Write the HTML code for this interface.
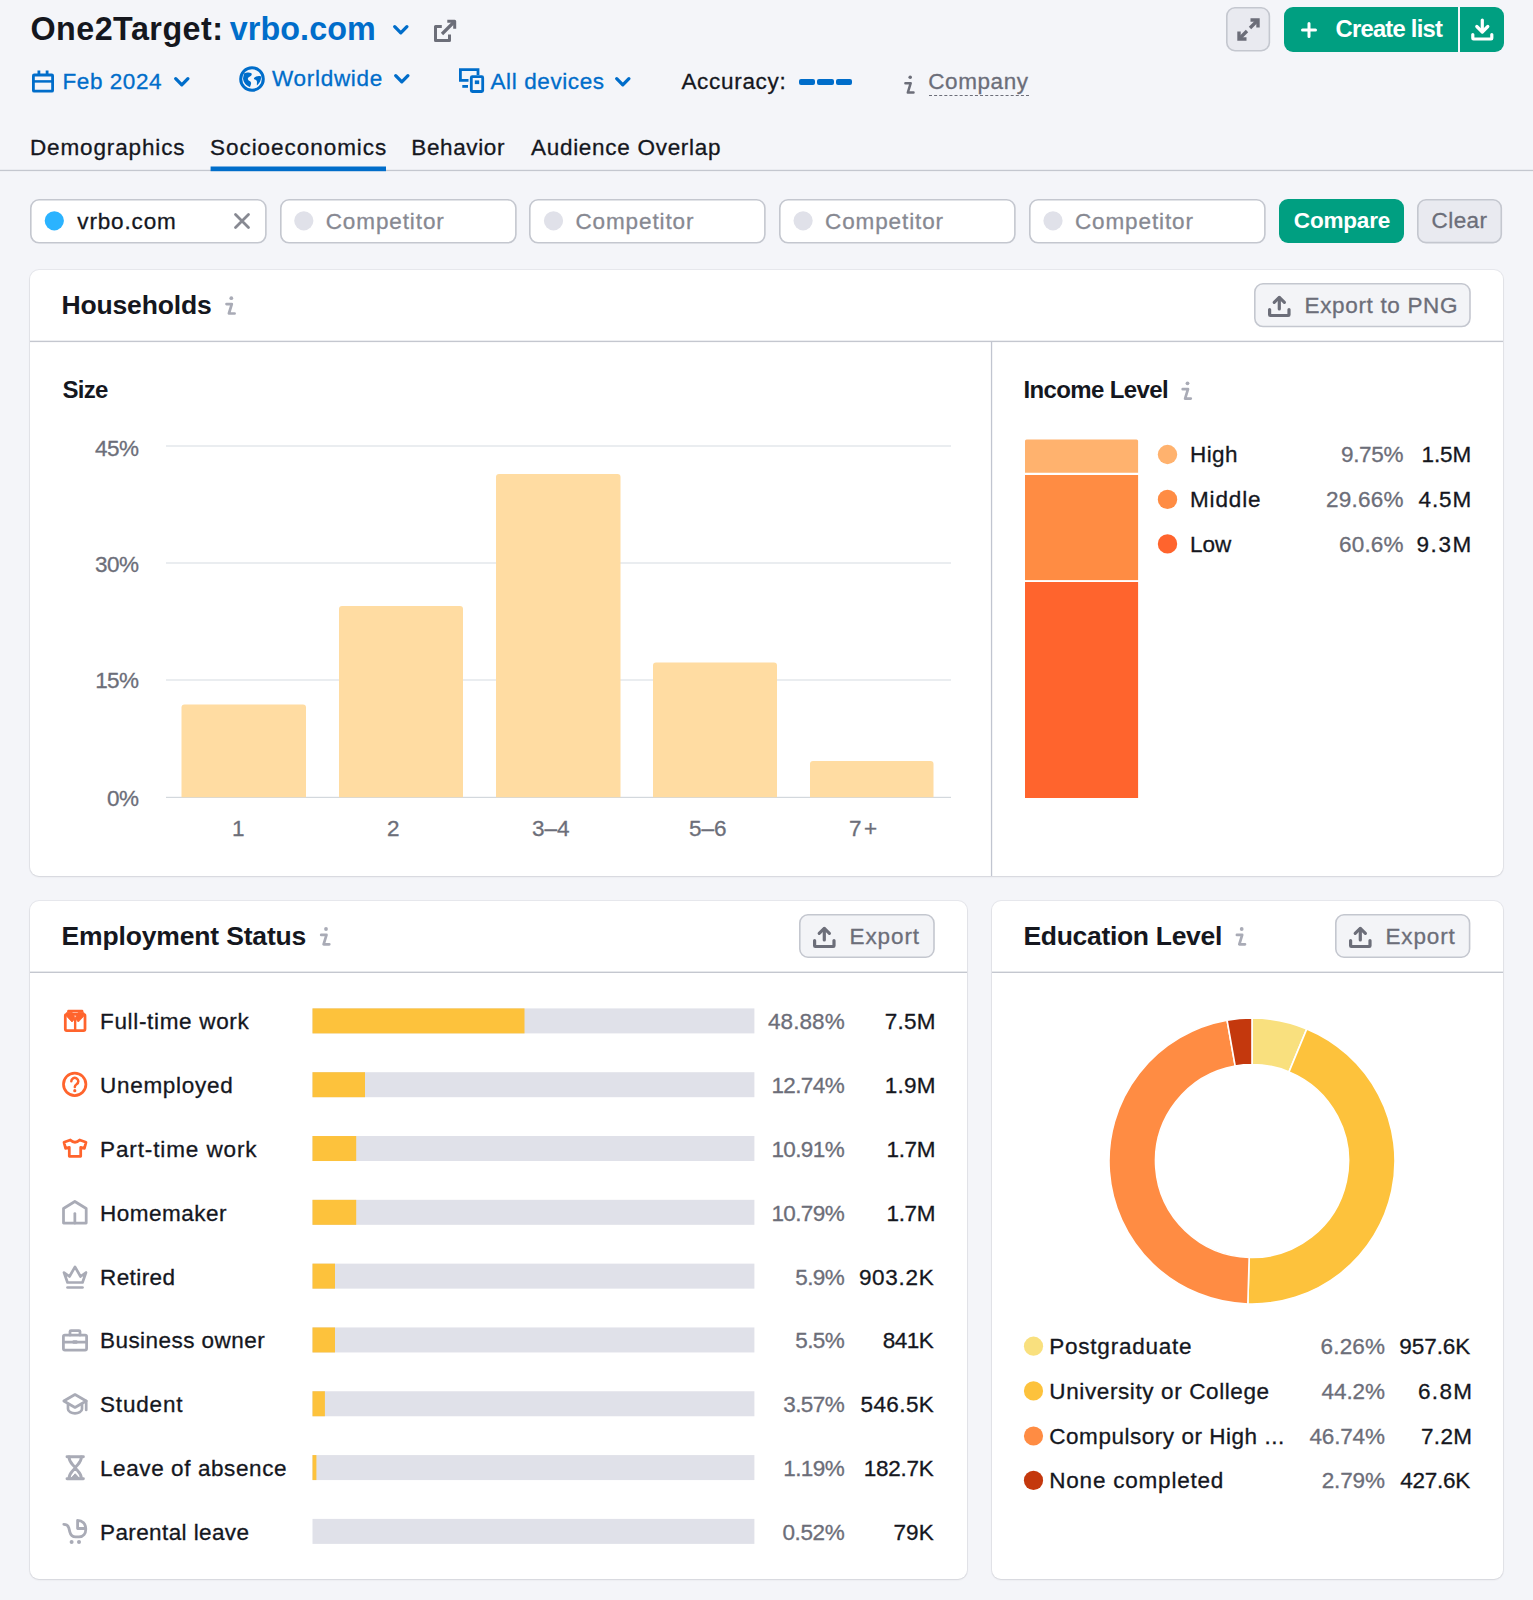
<!DOCTYPE html>
<html lang="en">
<head>
<meta charset="utf-8">
<title>One2Target: vrbo.com</title>
<style>
*{box-sizing:border-box;margin:0;padding:0}
html,body{width:1533px;height:1600px;overflow:hidden}
body{background:#f4f5f9;font-family:"Liberation Sans",sans-serif;color:#15171e;position:relative}
.a{position:absolute}
.t{position:absolute;white-space:nowrap}
.card{position:absolute;background:#fff;border-radius:9px;box-shadow:0 0 0 1px rgba(25,27,35,.055),0 1px 2px rgba(25,27,35,.09)}
svg{position:absolute;overflow:visible}
</style>
</head>
<body>


<header aria-label="Page header and filters">
<div class="t" style="left:30.40px;top:13px;font-size:32.3px;line-height:32.3px;letter-spacing:0.482px;font-weight:bold;">One2Target:</div>
<div class="t" style="left:229.80px;top:13px;font-size:32.3px;line-height:32.3px;letter-spacing:0.079px;font-weight:bold;color:#006dca;">vrbo.com</div>
<svg style="left:391.5px;top:23.5px" width="18" height="12" viewBox="0 0 18 12"><path d="M2.700 2.700 L8.8 8.800 L14.900 2.700" fill="none" stroke="#006dca" stroke-width="3.300" stroke-linecap="round" stroke-linejoin="round"/></svg>
<svg style="left:425px;top:10px" width="40" height="40" viewBox="425 10 40 40" fill="none" stroke="#6c6e79" stroke-width="3" stroke-linejoin="round"><path d="M441.800 26.500H435.500V40.500H449.500V34.500"/><path d="M447.300 21.300H454.700V28.700"/><path d="M454 22L442 34" stroke-width="3.200"/></svg>
<svg style="left:0;top:0" width="60" height="100" viewBox="0 0 60 100" fill="none" stroke="#006dca" stroke-width="2.8"><rect x="33.4" y="75" width="19.2" height="16.2" rx="0.8"/><path d="M33.4 81.4h19.2" stroke-width="2.5"/><path d="M38.9 70.4v5.600M47.100 70.4v5.600"/></svg>
<div class="t" style="left:62.50px;top:71px;font-size:22.5px;line-height:22.5px;letter-spacing:0.563px;-webkit-text-stroke:0.3px;color:#006dca;">Feb 2024</div>
<svg style="left:173px;top:76px" width="18" height="12" viewBox="0 0 18 12"><path d="M2.700 2.700 L8.8 8.800 L14.900 2.700" fill="none" stroke="#006dca" stroke-width="3.300" stroke-linecap="round" stroke-linejoin="round"/></svg>
<svg style="left:239px;top:66px" width="26" height="26" viewBox="0 0 26 26"><circle cx="13" cy="13" r="11.3" fill="none" stroke="#006dca" stroke-width="3"/><path d="M5 7.5c2-1 5-1.5 7-.5 1.5 1 .5 3-1 3.500-1.5.6-2.500 1.500-2 3 .6 1.500 2.500 1.500 3 3 .4 1.500-.5 3-1 4.500-3.500-1-6.500-4.500-7-8.500zM15 12c1.500-1.500 4.500-2.500 7-1.500.5 3.500-1.500 7-4 9-.5-2 .5-3.500-.5-5-1-1-3-1-2.500-2.500z" fill="#006dca"/></svg>
<div class="t" style="left:272.00px;top:68px;font-size:22.5px;line-height:22.5px;letter-spacing:0.711px;-webkit-text-stroke:0.3px;color:#006dca;">Worldwide</div>
<svg style="left:393px;top:73px" width="18" height="12" viewBox="0 0 18 12"><path d="M2.700 2.700 L8.8 8.800 L14.900 2.700" fill="none" stroke="#006dca" stroke-width="3.300" stroke-linecap="round" stroke-linejoin="round"/></svg>
<svg style="left:440px;top:60px" width="60" height="40" viewBox="440 60 60 40" fill="none" stroke="#006dca" stroke-width="2.8"><path d="M478 75V69.600H460.400V80.400H468.500"/><path d="M462.300 86.400H468"/><rect x="471.300" y="76.700" width="11.400" height="14.800" rx="1"/><rect x="474.800" y="80.400" width="4.400" height="3.700" fill="#006dca" stroke="none"/></svg>
<div class="t" style="left:490.50px;top:71px;font-size:22.5px;line-height:22.5px;letter-spacing:0.600px;-webkit-text-stroke:0.3px;color:#006dca;">All devices</div>
<svg style="left:614px;top:76px" width="18" height="12" viewBox="0 0 18 12"><path d="M2.700 2.700 L8.8 8.800 L14.900 2.700" fill="none" stroke="#006dca" stroke-width="3.300" stroke-linecap="round" stroke-linejoin="round"/></svg>
<div class="t" style="left:681.40px;top:71px;font-size:22.5px;line-height:22.5px;letter-spacing:0.697px;-webkit-text-stroke:0.3px;">Accuracy:</div>
<div class="a" style="left:798.7px;top:78.5px;width:16.5px;height:6.5px;border-radius:2px;background:#006dca"></div>
<div class="a" style="left:817.3px;top:78.5px;width:16.5px;height:6.5px;border-radius:2px;background:#006dca"></div>
<div class="a" style="left:835.9px;top:78.5px;width:16.5px;height:6.5px;border-radius:2px;background:#006dca"></div>
<svg style="left:0;top:0" width="1533" height="1600" viewBox="0 0 1533 1600" fill="none" stroke="#6c6e79" stroke-width="2.5" stroke-linecap="round" stroke-linejoin="round"><circle cx="910.2" cy="77.3" r="1.8" fill="#6c6e79" stroke="none"/><path d="M905.40 83.20H910.70L907.80 92.60H913.50"/></svg>
<div class="t" style="left:928.30px;top:71px;font-size:22.5px;line-height:22.5px;letter-spacing:0.576px;-webkit-text-stroke:0.3px;color:#6c6e79;">Company</div>
<div class="a" style="left:929px;top:95px;width:100px;height:0;border-top:1.5px dashed #6c6e79"></div>
<svg style="left:1226.00px;top:7.20px" width="44.20" height="44.50" viewBox="0 0 44.20 44.50"><rect x="0.80" y="0.80" width="42.60" height="42.90" rx="8.20" fill="#e9eaf0" stroke="#c4c7cf" stroke-width="1.6"/></svg>
<svg style="left:1237px;top:18px" width="23" height="23" viewBox="0 0 23 23" fill="none" stroke="#6c6e79" stroke-width="3.400" stroke-linejoin="miter"><path d="M13.500 2H21v7.500"/><path d="M20.500 2.500L13 10"/><path d="M9.500 21H2v-7.500"/><path d="M2.500 20.500L10 13"/></svg>
<div class="a" style="left:1283.5px;top:7px;width:174.500px;height:44.5px;background:#009f81;border-radius:9px 0 0 9px"></div>
<div class="a" style="left:1460px;top:7px;width:44px;height:44.5px;background:#009f81;border-radius:0 9px 9px 0"></div>
<svg style="left:1301px;top:21.500px" width="16" height="16" viewBox="0 0 16 16" stroke="#fff" stroke-width="3" stroke-linecap="round"><path d="M8 1.500v13M1.500 8h13"/></svg>
<div class="t" style="left:1335.50px;top:17px;font-size:23.8px;line-height:23.8px;letter-spacing:-0.764px;font-weight:bold;color:#fff;">Create list</div>
<svg style="left:1470.500px;top:18px" width="23" height="23" viewBox="0 0 23 23" fill="none" stroke="#fff" stroke-width="3.200" stroke-linecap="round" stroke-linejoin="round"><path d="M11.300 2V13.500"/><path d="M5.800 8.500l5.500 5.500 5.500-5.500"/><path d="M1.800 16.500v3.800q0 .7.700.7h17.600q.7 0 .7-.7v-3.800"/></svg>
<div class="t" style="left:30.00px;top:137px;font-size:22.5px;line-height:22.5px;letter-spacing:0.862px;-webkit-text-stroke:0.3px;">Demographics</div>
<div class="t" style="left:210.00px;top:137px;font-size:22.5px;line-height:22.5px;letter-spacing:0.956px;-webkit-text-stroke:0.3px;">Socioeconomics</div>
<div class="t" style="left:411.30px;top:137px;font-size:22.5px;line-height:22.5px;letter-spacing:0.627px;-webkit-text-stroke:0.3px;">Behavior</div>
<div class="t" style="left:531.00px;top:137px;font-size:22.5px;line-height:22.5px;letter-spacing:0.710px;-webkit-text-stroke:0.3px;">Audience Overlap</div>
<svg style="left:0px;top:169px" width="1533" height="3" viewBox="0 0 1533 3"><rect x="0.00" y="0.80" width="1533.00" height="1.30" fill="#c4c7cf"/></svg>
<svg style="left:210px;top:166px" width="176" height="6" viewBox="0 0 176 6"><rect x="0.60" y="0.50" width="175.40" height="4.70" fill="#006dca"/></svg>
<svg style="left:30.20px;top:198.60px" width="236.70" height="44.60" viewBox="0 0 236.70 44.60"><rect x="0.80" y="0.80" width="235.10" height="43.00" rx="8.20" fill="#fff" stroke="#c4c7cf" stroke-width="1.6"/></svg>
<svg style="left:43px;top:210px" width="23" height="23" viewBox="0 0 23 23"><circle cx="11.30" cy="10.80" r="9.6" fill="#2bb3ff"/></svg>
<svg style="left:279.70px;top:198.60px" width="236.70" height="44.60" viewBox="0 0 236.70 44.60"><rect x="0.80" y="0.80" width="235.10" height="43.00" rx="8.20" fill="#fff" stroke="#c4c7cf" stroke-width="1.6"/></svg>
<svg style="left:293px;top:210px" width="23" height="23" viewBox="0 0 23 23"><circle cx="10.80" cy="10.80" r="9.6" fill="#e0e1e9"/></svg>
<div class="t" style="left:325.70px;top:211px;font-size:22.5px;line-height:22.5px;letter-spacing:0.895px;-webkit-text-stroke:0.3px;color:#878992;">Competitor</div>
<svg style="left:529.40px;top:198.60px" width="236.70" height="44.60" viewBox="0 0 236.70 44.60"><rect x="0.80" y="0.80" width="235.10" height="43.00" rx="8.20" fill="#fff" stroke="#c4c7cf" stroke-width="1.6"/></svg>
<svg style="left:542px;top:210px" width="23" height="23" viewBox="0 0 23 23"><circle cx="11.50" cy="10.80" r="9.6" fill="#e0e1e9"/></svg>
<div class="t" style="left:575.40px;top:211px;font-size:22.5px;line-height:22.5px;letter-spacing:0.895px;-webkit-text-stroke:0.3px;color:#878992;">Competitor</div>
<svg style="left:779.00px;top:198.60px" width="236.70" height="44.60" viewBox="0 0 236.70 44.60"><rect x="0.80" y="0.80" width="235.10" height="43.00" rx="8.20" fill="#fff" stroke="#c4c7cf" stroke-width="1.6"/></svg>
<svg style="left:792px;top:210px" width="23" height="23" viewBox="0 0 23 23"><circle cx="11.10" cy="10.80" r="9.6" fill="#e0e1e9"/></svg>
<div class="t" style="left:825.00px;top:211px;font-size:22.5px;line-height:22.5px;letter-spacing:0.895px;-webkit-text-stroke:0.3px;color:#878992;">Competitor</div>
<svg style="left:1028.90px;top:198.60px" width="236.70" height="44.60" viewBox="0 0 236.70 44.60"><rect x="0.80" y="0.80" width="235.10" height="43.00" rx="8.20" fill="#fff" stroke="#c4c7cf" stroke-width="1.6"/></svg>
<svg style="left:1042px;top:210px" width="23" height="23" viewBox="0 0 23 23"><circle cx="11.00" cy="10.80" r="9.6" fill="#e0e1e9"/></svg>
<div class="t" style="left:1074.90px;top:211px;font-size:22.5px;line-height:22.5px;letter-spacing:0.895px;-webkit-text-stroke:0.3px;color:#878992;">Competitor</div>
<div class="t" style="left:77.30px;top:211px;font-size:22.5px;line-height:22.5px;letter-spacing:0.845px;-webkit-text-stroke:0.3px;">vrbo.com</div>
<svg style="left:233.500px;top:213px" width="16" height="16" viewBox="0 0 16 16" stroke="#878992" stroke-width="2.800" stroke-linecap="round"><path d="M1.500 1.500l13 13M14.500 1.500l-13 13"/></svg>
<div class="a" style="left:1278.700px;top:199px;width:125.500px;height:44px;background:#009f81;border-radius:9px"></div>
<div class="t" style="left:1293.80px;top:210px;font-size:22.5px;line-height:22.5px;letter-spacing:-0.169px;font-weight:bold;color:#fff;">Compare</div>
<svg style="left:1417.40px;top:198.80px" width="85.10" height="44.40" viewBox="0 0 85.10 44.40"><rect x="0.80" y="0.80" width="83.50" height="42.80" rx="8.20" fill="#e9eaf0" stroke="#c4c7cf" stroke-width="1.6"/></svg>
<div class="t" style="left:1431.60px;top:210px;font-size:22.5px;line-height:22.5px;letter-spacing:0.406px;-webkit-text-stroke:0.3px;color:#6c6e79;">Clear</div>
</header>

<section aria-label="Households">
<!-- households card -->
<div class="card" style="left:30px;top:270px;width:1473px;height:606px"></div>
<svg style="left:30px;top:340px" width="1473" height="3" viewBox="0 0 1473 3"><rect x="0.00" y="0.70" width="1473.00" height="1.40" fill="#c4c7cf"/></svg>
<svg style="left:990px;top:341px" width="3" height="535" viewBox="0 0 3 535"><rect x="0.90" y="0.50" width="1.30" height="534.50" fill="#c1c5d0"/></svg>
<div class="t" style="left:61.50px;top:292px;font-size:26.5px;line-height:26.5px;letter-spacing:-0.157px;font-weight:bold;">Households</div>
<svg style="left:0;top:0" width="1533" height="1600" viewBox="0 0 1533 1600" fill="none" stroke="#a9abb6" stroke-width="2.7" stroke-linecap="round" stroke-linejoin="round"><circle cx="231.3" cy="298.2" r="1.9" fill="#a9abb6" stroke="none"/><path d="M226.50 304.10H231.80L228.90 313.50H234.60"/></svg>
<svg style="left:1253.90px;top:283.10px" width="216.80" height="44.30" viewBox="0 0 216.80 44.30"><rect x="0.80" y="0.80" width="215.20" height="42.70" rx="8.20" fill="#f3f4f7" stroke="#c4c7cf" stroke-width="1.6"/></svg>
<svg style="left:1268px;top:295px" width="23" height="22" viewBox="0 0 23 22" fill="none" stroke="#6c6e79" stroke-width="3.200" stroke-linecap="round" stroke-linejoin="round"><path d="M11.3 14V2.800"/><path d="M6.200 7.300l5.100-4.900 5.100 4.900"/><path d="M1.600 14.500v5.300q0 .7.700.7h18q.7 0 .7-.7v-5.300"/></svg>
<div class="t" style="left:1304.50px;top:295px;font-size:22.5px;line-height:22.5px;letter-spacing:0.662px;-webkit-text-stroke:0.3px;color:#6c6e79;">Export to PNG</div>
<div class="t" style="left:62.50px;top:378px;font-size:24px;line-height:24px;letter-spacing:-0.725px;font-weight:bold;">Size</div>
<svg style="left:166px;top:445px" width="785" height="2" viewBox="0 0 785 2"><rect x="0.00" y="0.40" width="785.00" height="1.20" fill="#dce2e6"/></svg>
<svg style="left:166px;top:562px" width="785" height="2" viewBox="0 0 785 2"><rect x="0.00" y="0.40" width="785.00" height="1.20" fill="#dce2e6"/></svg>
<svg style="left:166px;top:679px" width="785" height="2" viewBox="0 0 785 2"><rect x="0.00" y="0.40" width="785.00" height="1.20" fill="#dce2e6"/></svg>
<svg style="left:166px;top:796px" width="785" height="2" viewBox="0 0 785 2"><rect x="0.00" y="0.80" width="785.00" height="1.20" fill="#d3d8dd"/></svg>
<div class="t" style="left:95.00px;top:438px;font-size:22.5px;line-height:22.5px;letter-spacing:-0.513px;-webkit-text-stroke:0.3px;color:#6c6e79;">45%</div>
<div class="t" style="left:95.00px;top:554px;font-size:22.5px;line-height:22.5px;letter-spacing:-0.513px;-webkit-text-stroke:0.3px;color:#6c6e79;">30%</div>
<div class="t" style="left:95.17px;top:670px;font-size:22.5px;line-height:22.5px;letter-spacing:-0.600px;-webkit-text-stroke:0.3px;color:#6c6e79;">15%</div>
<div class="t" style="left:107.09px;top:788px;font-size:22.5px;line-height:22.5px;letter-spacing:-0.600px;-webkit-text-stroke:0.3px;color:#6c6e79;">0%</div>
<svg style="left:0;top:0" width="1533" height="1600" viewBox="0 0 1533 1600"><path d="M181.5 797.3V707.5a3 3 0 0 1 3-3H303a3 3 0 0 1 3 3V797.3z" fill="#ffdca2"/></svg>
<svg style="left:0;top:0" width="1533" height="1600" viewBox="0 0 1533 1600"><path d="M339 797.3V609a3 3 0 0 1 3-3H460a3 3 0 0 1 3 3V797.3z" fill="#ffdca2"/></svg>
<svg style="left:0;top:0" width="1533" height="1600" viewBox="0 0 1533 1600"><path d="M496 797.3V477a3 3 0 0 1 3-3H617.5a3 3 0 0 1 3 3V797.3z" fill="#ffdca2"/></svg>
<svg style="left:0;top:0" width="1533" height="1600" viewBox="0 0 1533 1600"><path d="M653 797.3V665.5a3 3 0 0 1 3-3H774a3 3 0 0 1 3 3V797.3z" fill="#ffdca2"/></svg>
<svg style="left:0;top:0" width="1533" height="1600" viewBox="0 0 1533 1600"><path d="M810 797.3V764a3 3 0 0 1 3-3H930.5a3 3 0 0 1 3 3V797.3z" fill="#ffdca2"/></svg>
<div class="t" style="left:232.00px;top:818px;font-size:22.5px;line-height:22.5px;-webkit-text-stroke:0.3px;color:#6c6e79;">1</div>
<div class="t" style="left:387.00px;top:818px;font-size:22.5px;line-height:22.5px;-webkit-text-stroke:0.3px;color:#6c6e79;">2</div>
<div class="t" style="left:532.00px;top:818px;font-size:22.5px;line-height:22.5px;letter-spacing:-0.013px;-webkit-text-stroke:0.3px;color:#6c6e79;">3–4</div>
<div class="t" style="left:689.00px;top:818px;font-size:22.5px;line-height:22.5px;letter-spacing:-0.013px;-webkit-text-stroke:0.3px;color:#6c6e79;">5–6</div>
<div class="t" style="left:849.00px;top:818px;font-size:22.5px;line-height:22.5px;letter-spacing:2.487px;-webkit-text-stroke:0.3px;color:#6c6e79;">7+</div>
<div class="t" style="left:1023.50px;top:378px;font-size:24px;line-height:24px;letter-spacing:-0.627px;font-weight:bold;">Income Level</div>
<svg style="left:0;top:0" width="1533" height="1600" viewBox="0 0 1533 1600" fill="none" stroke="#a9abb6" stroke-width="2.7" stroke-linecap="round" stroke-linejoin="round"><circle cx="1187.5" cy="383.3" r="1.9" fill="#a9abb6" stroke="none"/><path d="M1182.70 389.20H1188.00L1185.10 398.60H1190.80"/></svg>
<svg style="left:0;top:0" width="1533" height="1600" viewBox="0 0 1533 1600"><path d="M1025 472.800V441a1.600 1.600 0 0 1 1.600-1.600H1136.500a1.600 1.600 0 0 1 1.600 1.600V472.800z" fill="#ffb26e"/></svg>
<svg style="left:1025px;top:475px" width="114" height="106" viewBox="0 0 114 106"><rect x="0.00" y="0.00" width="113.10" height="105.10" fill="#ff8c43"/></svg>
<svg style="left:1025px;top:582px" width="114" height="216" viewBox="0 0 114 216"><rect x="0.00" y="0.00" width="113.10" height="216.00" fill="#ff642d"/></svg>
<svg style="left:1156px;top:443px" width="23" height="23" viewBox="0 0 23 23"><circle cx="11.50" cy="11.50" r="9.7" fill="#ffb26e"/></svg>
<div class="t" style="left:1190.00px;top:444px;font-size:22.5px;line-height:22.5px;letter-spacing:0.413px;-webkit-text-stroke:0.3px;">High</div>
<div class="t" style="left:1341.00px;top:444px;font-size:22.5px;line-height:22.5px;letter-spacing:-0.323px;-webkit-text-stroke:0.3px;color:#6c6e79;">9.75%</div>
<div class="t" style="left:1421.50px;top:444px;font-size:22.5px;line-height:22.5px;letter-spacing:-0.093px;-webkit-text-stroke:0.3px;">1.5M</div>
<svg style="left:1156px;top:488px" width="23" height="23" viewBox="0 0 23 23"><circle cx="11.50" cy="11.40" r="9.7" fill="#ff8c43"/></svg>
<div class="t" style="left:1190.00px;top:489px;font-size:22.5px;line-height:22.5px;letter-spacing:0.847px;-webkit-text-stroke:0.3px;">Middle</div>
<div class="t" style="left:1326.00px;top:489px;font-size:22.5px;line-height:22.5px;letter-spacing:0.239px;-webkit-text-stroke:0.3px;color:#6c6e79;">29.66%</div>
<div class="t" style="left:1418.50px;top:489px;font-size:22.5px;line-height:22.5px;letter-spacing:0.907px;-webkit-text-stroke:0.3px;">4.5M</div>
<svg style="left:1156px;top:533px" width="23" height="23" viewBox="0 0 23 23"><circle cx="11.50" cy="10.90" r="9.7" fill="#ff642d"/></svg>
<div class="t" style="left:1190.00px;top:534px;font-size:22.5px;line-height:22.5px;letter-spacing:-0.013px;-webkit-text-stroke:0.3px;">Low</div>
<div class="t" style="left:1339.00px;top:534px;font-size:22.5px;line-height:22.5px;letter-spacing:0.177px;-webkit-text-stroke:0.3px;color:#6c6e79;">60.6%</div>
<div class="t" style="left:1416.50px;top:534px;font-size:22.5px;line-height:22.5px;letter-spacing:1.574px;-webkit-text-stroke:0.3px;">9.3M</div>
</section>

<section aria-label="Employment Status">
<!-- employment card -->
<div class="card" style="left:30px;top:901px;width:937px;height:678px"></div>
<svg style="left:30px;top:971px" width="937" height="2" viewBox="0 0 937 2"><rect x="0.00" y="0.60" width="937.00" height="1.40" fill="#c4c7cf"/></svg>
<div class="t" style="left:61.60px;top:923px;font-size:26.5px;line-height:26.5px;letter-spacing:-0.165px;font-weight:bold;">Employment Status</div>
<svg style="left:0;top:0" width="1533" height="1600" viewBox="0 0 1533 1600" fill="none" stroke="#a9abb6" stroke-width="2.7" stroke-linecap="round" stroke-linejoin="round"><circle cx="326" cy="929" r="1.9" fill="#a9abb6" stroke="none"/><path d="M321.20 934.90H326.50L323.60 944.30H329.30"/></svg>
<svg style="left:798.80px;top:914.20px" width="135.80" height="44.00" viewBox="0 0 135.80 44.00"><rect x="0.80" y="0.80" width="134.20" height="42.40" rx="8.20" fill="#f3f4f7" stroke="#c4c7cf" stroke-width="1.6"/></svg>
<svg style="left:812.500px;top:926px" width="23" height="22" viewBox="0 0 23 22" fill="none" stroke="#6c6e79" stroke-width="3.200" stroke-linecap="round" stroke-linejoin="round"><path d="M11.3 14V2.800"/><path d="M6.200 7.300l5.100-4.900 5.100 4.900"/><path d="M1.600 14.500v5.300q0 .7.700.7h18q.7 0 .7-.7v-5.300"/></svg>
<div class="t" style="left:849.60px;top:926px;font-size:22.5px;line-height:22.5px;letter-spacing:0.885px;-webkit-text-stroke:0.3px;color:#6c6e79;">Export</div>
<svg style="left:312px;top:1008px" width="443" height="26" viewBox="0 0 443 26"><rect x="0.50" y="0.40" width="441.90" height="25.00" fill="#e0e1e9"/></svg>
<svg style="left:312px;top:1008px" width="213" height="26" viewBox="0 0 213 26"><rect x="0.50" y="0.40" width="212.00" height="25.00" fill="#fdc23c"/></svg>
<div class="t" style="left:100.00px;top:1011px;font-size:22.5px;line-height:22.5px;letter-spacing:0.672px;-webkit-text-stroke:0.3px;">Full-time work</div>
<div class="t" style="left:768.00px;top:1011px;font-size:22.5px;line-height:22.5px;letter-spacing:0.079px;-webkit-text-stroke:0.3px;color:#6c6e79;">48.88%</div>
<div class="t" style="left:884.80px;top:1011px;font-size:22.5px;line-height:22.5px;letter-spacing:0.241px;-webkit-text-stroke:0.3px;">7.5M</div>
<svg style="left:312px;top:1072px" width="443" height="26" viewBox="0 0 443 26"><rect x="0.50" y="0.21" width="441.90" height="25.00" fill="#e0e1e9"/></svg>
<svg style="left:312px;top:1072px" width="53" height="26" viewBox="0 0 53 26"><rect x="0.50" y="0.21" width="52.50" height="25.00" fill="#fdc23c"/></svg>
<div class="t" style="left:100.00px;top:1075px;font-size:22.5px;line-height:22.5px;letter-spacing:0.710px;-webkit-text-stroke:0.3px;">Unemployed</div>
<div class="t" style="left:771.40px;top:1075px;font-size:22.5px;line-height:22.5px;letter-spacing:-0.600px;-webkit-text-stroke:0.3px;color:#6c6e79;">12.74%</div>
<div class="t" style="left:884.80px;top:1075px;font-size:22.5px;line-height:22.5px;letter-spacing:0.241px;-webkit-text-stroke:0.3px;">1.9M</div>
<svg style="left:312px;top:1136px" width="443" height="26" viewBox="0 0 443 26"><rect x="0.50" y="0.02" width="441.90" height="25.00" fill="#e0e1e9"/></svg>
<svg style="left:312px;top:1136px" width="45" height="26" viewBox="0 0 45 26"><rect x="0.50" y="0.02" width="43.70" height="25.00" fill="#fdc23c"/></svg>
<div class="t" style="left:100.00px;top:1139px;font-size:22.5px;line-height:22.5px;letter-spacing:0.887px;-webkit-text-stroke:0.3px;">Part-time work</div>
<div class="t" style="left:771.40px;top:1139px;font-size:22.5px;line-height:22.5px;letter-spacing:-0.600px;-webkit-text-stroke:0.3px;color:#6c6e79;">10.91%</div>
<div class="t" style="left:886.50px;top:1139px;font-size:22.5px;line-height:22.5px;letter-spacing:-0.326px;-webkit-text-stroke:0.3px;">1.7M</div>
<svg style="left:312px;top:1199px" width="443" height="26" viewBox="0 0 443 26"><rect x="0.50" y="0.83" width="441.90" height="25.00" fill="#e0e1e9"/></svg>
<svg style="left:312px;top:1199px" width="45" height="26" viewBox="0 0 45 26"><rect x="0.50" y="0.83" width="43.70" height="25.00" fill="#fdc23c"/></svg>
<div class="t" style="left:100.00px;top:1203px;font-size:22.5px;line-height:22.5px;letter-spacing:0.495px;-webkit-text-stroke:0.3px;">Homemaker</div>
<div class="t" style="left:771.40px;top:1203px;font-size:22.5px;line-height:22.5px;letter-spacing:-0.600px;-webkit-text-stroke:0.3px;color:#6c6e79;">10.79%</div>
<div class="t" style="left:886.50px;top:1203px;font-size:22.5px;line-height:22.5px;letter-spacing:-0.326px;-webkit-text-stroke:0.3px;">1.7M</div>
<svg style="left:312px;top:1263px" width="443" height="26" viewBox="0 0 443 26"><rect x="0.50" y="0.64" width="441.90" height="25.00" fill="#e0e1e9"/></svg>
<svg style="left:312px;top:1263px" width="23" height="26" viewBox="0 0 23 26"><rect x="0.50" y="0.64" width="22.50" height="25.00" fill="#fdc23c"/></svg>
<div class="t" style="left:100.00px;top:1267px;font-size:22.5px;line-height:22.5px;letter-spacing:0.414px;-webkit-text-stroke:0.3px;">Retired</div>
<div class="t" style="left:795.22px;top:1267px;font-size:22.5px;line-height:22.5px;letter-spacing:-0.600px;-webkit-text-stroke:0.3px;color:#6c6e79;">5.9%</div>
<div class="t" style="left:858.90px;top:1267px;font-size:22.5px;line-height:22.5px;letter-spacing:0.719px;-webkit-text-stroke:0.3px;">903.2K</div>
<svg style="left:312px;top:1327px" width="443" height="26" viewBox="0 0 443 26"><rect x="0.50" y="0.45" width="441.90" height="25.00" fill="#e0e1e9"/></svg>
<svg style="left:312px;top:1327px" width="23" height="26" viewBox="0 0 23 26"><rect x="0.50" y="0.45" width="22.50" height="25.00" fill="#fdc23c"/></svg>
<div class="t" style="left:100.00px;top:1330px;font-size:22.5px;line-height:22.5px;letter-spacing:0.451px;-webkit-text-stroke:0.3px;">Business owner</div>
<div class="t" style="left:795.22px;top:1330px;font-size:22.5px;line-height:22.5px;letter-spacing:-0.600px;-webkit-text-stroke:0.3px;color:#6c6e79;">5.5%</div>
<div class="t" style="left:882.80px;top:1330px;font-size:22.5px;line-height:22.5px;letter-spacing:-0.513px;-webkit-text-stroke:0.3px;">841K</div>
<svg style="left:312px;top:1391px" width="443" height="26" viewBox="0 0 443 26"><rect x="0.50" y="0.26" width="441.90" height="25.00" fill="#e0e1e9"/></svg>
<svg style="left:312px;top:1391px" width="13" height="26" viewBox="0 0 13 26"><rect x="0.50" y="0.26" width="12.40" height="25.00" fill="#fdc23c"/></svg>
<div class="t" style="left:100.00px;top:1394px;font-size:22.5px;line-height:22.5px;letter-spacing:0.831px;-webkit-text-stroke:0.3px;">Student</div>
<div class="t" style="left:783.30px;top:1394px;font-size:22.5px;line-height:22.5px;letter-spacing:-0.598px;-webkit-text-stroke:0.3px;color:#6c6e79;">3.57%</div>
<div class="t" style="left:860.50px;top:1394px;font-size:22.5px;line-height:22.5px;letter-spacing:0.399px;-webkit-text-stroke:0.3px;">546.5K</div>
<svg style="left:312px;top:1455px" width="443" height="26" viewBox="0 0 443 26"><rect x="0.50" y="0.07" width="441.90" height="25.00" fill="#e0e1e9"/></svg>
<svg style="left:312px;top:1455px" width="5" height="26" viewBox="0 0 5 26"><rect x="0.50" y="0.07" width="3.90" height="25.00" fill="#fdc23c"/></svg>
<div class="t" style="left:100.00px;top:1458px;font-size:22.5px;line-height:22.5px;letter-spacing:0.592px;-webkit-text-stroke:0.3px;">Leave of absence</div>
<div class="t" style="left:783.31px;top:1458px;font-size:22.5px;line-height:22.5px;letter-spacing:-0.600px;-webkit-text-stroke:0.3px;color:#6c6e79;">1.19%</div>
<div class="t" style="left:863.80px;top:1458px;font-size:22.5px;line-height:22.5px;letter-spacing:-0.261px;-webkit-text-stroke:0.3px;">182.7K</div>
<svg style="left:312px;top:1518px" width="443" height="26" viewBox="0 0 443 26"><rect x="0.50" y="0.88" width="441.90" height="25.00" fill="#e0e1e9"/></svg>
<div class="t" style="left:100.00px;top:1522px;font-size:22.5px;line-height:22.5px;letter-spacing:0.398px;-webkit-text-stroke:0.3px;">Parental leave</div>
<div class="t" style="left:782.40px;top:1522px;font-size:22.5px;line-height:22.5px;letter-spacing:-0.373px;-webkit-text-stroke:0.3px;color:#6c6e79;">0.52%</div>
<div class="t" style="left:893.40px;top:1522px;font-size:22.5px;line-height:22.5px;letter-spacing:0.187px;-webkit-text-stroke:0.3px;">79K</div>
<svg style="left:0;top:0" width="1533" height="1600" viewBox="0 0 1533 1600" fill="none" stroke="#ff642d" stroke-width="2.75" stroke-linecap="round" stroke-linejoin="round"><rect x="65.3" y="1014.3" width="19.7" height="16.3" rx="1.500"/><path d="M68.500 1011.200H82"/><path d="M66.800 1012.500h5.400l3 5.800-3.200 3.700-5.200-5.500zM83.500 1012.500h-5.400l-3 5.800 3.200 3.700 5.200-5.500z" fill="#ff642d" stroke-width=".8"/><path d="M75.150 1019.500V1030" stroke-width="2.400"/></svg>
<svg style="left:0;top:0" width="1533" height="1600" viewBox="0 0 1533 1600" fill="none" stroke="#ff642d" stroke-width="2.75" stroke-linecap="round" stroke-linejoin="round"><circle cx="74.700" cy="1084.300" r="11.200"/><path d="M71.300 1081.300a3.500 3.400 0 1 1 5.300 2.900c-1.300.800-1.800 1.400-1.800 2.700" stroke-width="2.500"/><circle cx="74.800" cy="1090.700" r="1.600" fill="#ff642d" stroke="none"/></svg>
<svg style="left:0;top:0" width="1533" height="1600" viewBox="0 0 1533 1600" fill="none" stroke="#ff642d" stroke-width="2.75" stroke-linecap="round" stroke-linejoin="round"><path d="M70.300 1140q4.700 4.500 9.400 0l6.300 2.300-1.600 6-3.700-1v9H69.300v-9l-3.700 1-1.600-6z"/></svg>
<svg style="left:0;top:0" width="1533" height="1600" viewBox="0 0 1533 1600" fill="none" stroke="#a9abb6" stroke-width="2.75" stroke-linecap="round" stroke-linejoin="round"><path d="M63.500 1223V1208.500L74.850 1201.500 86.200 1208.500V1223z"/><path d="M74.850 1223V1213.500"/></svg>
<svg style="left:0;top:0" width="1533" height="1600" viewBox="0 0 1533 1600" fill="none" stroke="#a9abb6" stroke-width="2.7" stroke-linecap="round" stroke-linejoin="round"><path d="M64 1272.500l5.500 4 5.500-9.700 5.500 9.700 5.500-4-3.500 10H67.500z"/><path d="M67.500 1287.500h15"/></svg>
<svg style="left:0;top:0" width="1533" height="1600" viewBox="0 0 1533 1600" fill="none" stroke="#a9abb6" stroke-width="2.75" stroke-linecap="round" stroke-linejoin="round"><rect x="63.400" y="1335" width="23.200" height="15" rx="1.500"/><path d="M70 1335v-3.500a1 1 0 0 1 1-1h8a1 1 0 0 1 1 1v3.500"/><path d="M63.400 1342h23.200"/><rect x="72.500" y="1340.300" width="5" height="3.500" rx="1" fill="#a9abb6" stroke="none"/></svg>
<svg style="left:0;top:0" width="1533" height="1600" viewBox="0 0 1533 1600" fill="none" stroke="#a9abb6" stroke-width="2.7" stroke-linecap="round" stroke-linejoin="round"><path d="M63.800 1401L75 1394.500 86.200 1401 75 1407.500z"/><path d="M68 1404.500v4.500c0 2.500 3.500 4.300 7 4.300s7-1.800 7-4.300v-4.500"/><path d="M86.200 1401v9"/></svg>
<svg style="left:0;top:0" width="1533" height="1600" viewBox="0 0 1533 1600" fill="none" stroke="#a9abb6" stroke-width="2.9" stroke-linecap="round" stroke-linejoin="round"><path d="M67 1456.800H83.400M67 1478.800H83.400"/><path d="M69 1457c0 5.500 3.700 7 6.200 10.800 2.500-3.800 6.200-5.300 6.200-10.800M69 1478.600c0-5.500 3.700-7 6.200-10.800 2.500 3.800 6.200 5.300 6.200 10.800"/><path d="M71.300 1478l3.900-4.200 3.900 4.200z" fill="#a9abb6" stroke-width="1"/></svg>
<svg style="left:0;top:0" width="1533" height="1600" viewBox="0 0 1533 1600" fill="none" stroke="#a9abb6" stroke-width="2.8" stroke-linecap="round" stroke-linejoin="round"><path d="M63.800 1524.300c2.800 0 4.300 1 5 3.500l1 4c.8 3.200 2.600 5 5.800 5h3.400c4.500 0 6.800-3.400 6.800-7.800 0-5-3.400-8.700-8.200-8.700v8.200h8"/><circle cx="71.600" cy="1542" r="2" fill="#a9abb6" stroke="none"/><circle cx="79" cy="1542" r="2" fill="#a9abb6" stroke="none"/></svg>
</section>

<section aria-label="Education Level">
<!-- education card -->
<div class="card" style="left:992px;top:901px;width:511px;height:678px"></div>
<svg style="left:992px;top:971px" width="511" height="2" viewBox="0 0 511 2"><rect x="0.00" y="0.60" width="511.00" height="1.40" fill="#c4c7cf"/></svg>
<div class="t" style="left:1023.40px;top:923px;font-size:26.5px;line-height:26.5px;letter-spacing:-0.304px;font-weight:bold;">Education Level</div>
<svg style="left:0;top:0" width="1533" height="1600" viewBox="0 0 1533 1600" fill="none" stroke="#a9abb6" stroke-width="2.7" stroke-linecap="round" stroke-linejoin="round"><circle cx="1241.7" cy="929" r="1.9" fill="#a9abb6" stroke="none"/><path d="M1236.90 934.90H1242.20L1239.30 944.30H1245.00"/></svg>
<svg style="left:1334.80px;top:914.20px" width="135.40" height="44.00" viewBox="0 0 135.40 44.00"><rect x="0.80" y="0.80" width="133.80" height="42.40" rx="8.20" fill="#f3f4f7" stroke="#c4c7cf" stroke-width="1.6"/></svg>
<svg style="left:1348.500px;top:926px" width="23" height="22" viewBox="0 0 23 22" fill="none" stroke="#6c6e79" stroke-width="3.200" stroke-linecap="round" stroke-linejoin="round"><path d="M11.3 14V2.800"/><path d="M6.200 7.300l5.100-4.900 5.100 4.900"/><path d="M1.600 14.500v5.300q0 .7.700.7h18q.7 0 .7-.7v-5.300"/></svg>
<div class="t" style="left:1385.50px;top:926px;font-size:22.5px;line-height:22.5px;letter-spacing:0.845px;-webkit-text-stroke:0.3px;color:#6c6e79;">Export</div>
<svg style="left:0;top:0" width="1533" height="1600" viewBox="0 0 1533 1600"><path d="M1252.00 1018.00A143 143 0 0 1 1306.81 1028.92L1288.99 1071.87A96.5 96.5 0 0 0 1252.00 1064.50Z" fill="#f9e07e" stroke="#fff" stroke-width="1.600"/><path d="M1306.81 1028.92A143 143 0 0 1 1247.82 1303.94L1249.18 1257.46A96.5 96.5 0 0 0 1288.99 1071.87Z" fill="#fdc23c" stroke="#fff" stroke-width="1.600"/><path d="M1247.82 1303.94A143 143 0 0 1 1227.06 1020.19L1235.17 1065.98A96.5 96.5 0 0 0 1249.18 1257.46Z" fill="#ff8c43" stroke="#fff" stroke-width="1.600"/><path d="M1227.06 1020.19A143 143 0 0 1 1252.00 1018.00L1252.00 1064.50A96.5 96.5 0 0 0 1235.17 1065.98Z" fill="#c4380d" stroke="#fff" stroke-width="1.600"/></svg>
<svg style="left:1022px;top:1335px" width="23" height="23" viewBox="0 0 23 23"><circle cx="11.50" cy="11.20" r="9.6" fill="#f9e07e"/></svg>
<div class="t" style="left:1049.30px;top:1336px;font-size:22.5px;line-height:22.5px;letter-spacing:0.761px;-webkit-text-stroke:0.3px;">Postgraduate</div>
<div class="t" style="left:1320.60px;top:1336px;font-size:22.5px;line-height:22.5px;letter-spacing:0.152px;-webkit-text-stroke:0.3px;color:#6c6e79;">6.26%</div>
<div class="t" style="left:1399.30px;top:1336px;font-size:22.5px;line-height:22.5px;letter-spacing:-0.061px;-webkit-text-stroke:0.3px;">957.6K</div>
<svg style="left:1022px;top:1380px" width="23" height="23" viewBox="0 0 23 23"><circle cx="11.50" cy="10.90" r="9.6" fill="#fdc23c"/></svg>
<div class="t" style="left:1049.30px;top:1381px;font-size:22.5px;line-height:22.5px;letter-spacing:0.612px;-webkit-text-stroke:0.3px;">University or College</div>
<div class="t" style="left:1321.60px;top:1381px;font-size:22.5px;line-height:22.5px;letter-spacing:-0.098px;-webkit-text-stroke:0.3px;color:#6c6e79;">44.2%</div>
<div class="t" style="left:1418.00px;top:1381px;font-size:22.5px;line-height:22.5px;letter-spacing:1.341px;-webkit-text-stroke:0.3px;">6.8M</div>
<svg style="left:1022px;top:1425px" width="23" height="23" viewBox="0 0 23 23"><circle cx="11.50" cy="11.00" r="9.6" fill="#ff8c43"/></svg>
<div class="t" style="left:1049.30px;top:1426px;font-size:22.5px;line-height:22.5px;letter-spacing:0.530px;-webkit-text-stroke:0.3px;">Compulsory or High ...</div>
<div class="t" style="left:1309.40px;top:1426px;font-size:22.5px;line-height:22.5px;letter-spacing:-0.141px;-webkit-text-stroke:0.3px;color:#6c6e79;">46.74%</div>
<div class="t" style="left:1420.90px;top:1426px;font-size:22.5px;line-height:22.5px;letter-spacing:0.374px;-webkit-text-stroke:0.3px;">7.2M</div>
<svg style="left:1022px;top:1469px" width="23" height="23" viewBox="0 0 23 23"><circle cx="11.50" cy="11.40" r="9.6" fill="#c4380d"/></svg>
<div class="t" style="left:1049.30px;top:1470px;font-size:22.5px;line-height:22.5px;letter-spacing:0.782px;-webkit-text-stroke:0.3px;">None completed</div>
<div class="t" style="left:1321.70px;top:1470px;font-size:22.5px;line-height:22.5px;letter-spacing:-0.123px;-webkit-text-stroke:0.3px;color:#6c6e79;">2.79%</div>
<div class="t" style="left:1400.30px;top:1470px;font-size:22.5px;line-height:22.5px;letter-spacing:-0.261px;-webkit-text-stroke:0.3px;">427.6K</div>
</section>

</body>
</html>
